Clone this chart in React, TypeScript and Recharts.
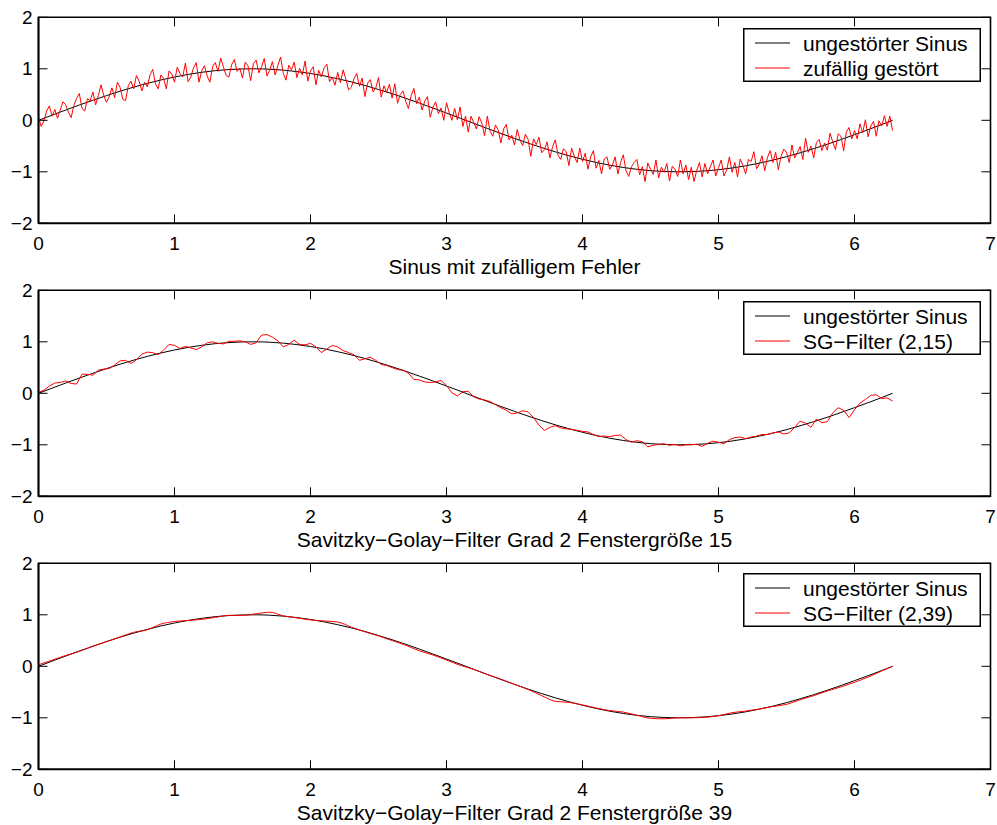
import React from 'react'
import { LineChart, Line, XAxis, YAxis, ReferenceArea, Legend } from 'recharts'

const FONT = '"Liberation Sans", Arial, Helvetica, sans-serif'

// ungestörter Sinus, 0 .. 2*pi in 0.1-Schritten (letzter Punkt bei 6.28)
const sinus = [
  0, 0.1, 0.199, 0.296, 0.389, 0.479, 0.565, 0.644, 0.717, 0.783,
  0.841, 0.891, 0.932, 0.964, 0.985, 0.997, 1.0, 0.992, 0.974, 0.946,
  0.909, 0.863, 0.808, 0.746, 0.676, 0.598, 0.516, 0.427, 0.335, 0.239,
  0.141, 0.042, -0.058, -0.158, -0.256, -0.351, -0.443, -0.53, -0.612, -0.688,
  -0.757, -0.818, -0.872, -0.916, -0.952, -0.978, -0.994, -1.0, -0.996, -0.983,
  -0.959, -0.926, -0.884, -0.832, -0.773, -0.706, -0.631, -0.551, -0.465, -0.374,
  -0.279, -0.182, -0.083, 0,
]

// zufällig gestört, Schrittweite 0.02
const gestoert = [
  0.06, -0.12, -0.01, 0.18, 0.28, 0.08, 0.21, 0.04, 0.2, 0.36,
  0.3, 0.16, 0.05, 0.29, 0.42, 0.52, 0.23, 0.18, 0.42, 0.38,
  0.55, 0.3, 0.48, 0.69, 0.48, 0.35, 0.46, 0.63, 0.44, 0.74,
  0.64, 0.41, 0.38, 0.67, 0.76, 0.61, 0.87, 0.76, 0.57, 0.74,
  0.65, 0.88, 0.99, 0.71, 0.61, 0.88, 0.81, 0.61, 0.96, 0.9,
  0.74, 1.03, 0.91, 0.84, 1.11, 0.75, 0.84, 1.02, 1.12, 0.74,
  0.96, 1.06, 0.86, 0.74, 1.04, 1.12, 0.95, 1.21, 1.03, 0.87,
  0.84, 1.08, 1.18, 0.95, 1.01, 0.82, 1.13, 1.06, 0.77, 1.1,
  1.17, 0.92, 1.04, 1.2, 0.86, 0.97, 1.14, 0.88, 1.06, 1.23,
  0.91, 0.78, 1.07, 0.98, 1.13, 0.83, 1.01, 0.88, 1.15, 0.76,
  0.96, 1.04, 0.69, 0.97, 0.84, 1.02, 1.09, 0.75, 0.84, 0.68,
  0.93, 0.73, 0.98, 0.8, 0.59, 0.64, 0.81, 0.91, 0.66, 0.82,
  0.46, 0.72, 0.79, 0.55, 0.63, 0.83, 0.45, 0.67, 0.54, 0.7,
  0.43, 0.71, 0.33, 0.5, 0.57, 0.37, 0.23, 0.48, 0.62, 0.32,
  0.45, 0.2, 0.37, 0.46, 0.06, 0.25, 0.36, 0.13, 0.24, 0.0,
  0.34, 0.15, 0.0, 0.23, 0.01, 0.26, -0.12, 0.08, -0.23, 0.08,
  -0.04, -0.17, 0.07, -0.06, -0.3, 0.08, -0.21, -0.31, -0.09, -0.19,
  -0.44, -0.17, -0.08, -0.38, -0.29, -0.48, -0.18, -0.38, -0.49, -0.27,
  -0.37, -0.7, -0.36, -0.47, -0.33, -0.63, -0.57, -0.42, -0.73, -0.51,
  -0.38, -0.68, -0.76, -0.55, -0.61, -0.88, -0.54, -0.7, -0.82, -0.54,
  -0.8, -0.64, -0.95, -0.71, -0.59, -0.93, -0.78, -1.04, -0.75, -0.71,
  -0.95, -0.87, -0.71, -1.04, -0.82, -0.67, -0.98, -1.09, -0.9, -0.82,
  -0.76, -1.06, -0.9, -1.19, -0.83, -0.95, -1.05, -0.77, -1.12, -0.91,
  -1.01, -0.84, -1.18, -0.89, -0.95, -1.09, -0.77, -1.04, -0.87, -1.15,
  -0.91, -1.19, -0.97, -0.82, -1.1, -0.84, -1.04, -0.9, -0.77, -1.08,
  -0.92, -0.77, -1.08, -0.97, -0.71, -1.01, -0.82, -1.1, -0.75, -0.88,
  -1.04, -0.76, -0.8, -0.61, -0.94, -0.85, -0.69, -0.98, -0.72, -0.59,
  -0.82, -0.62, -0.96, -0.7, -0.56, -0.62, -0.82, -0.48, -0.73, -0.63,
  -0.51, -0.76, -0.35, -0.62, -0.5, -0.73, -0.43, -0.37, -0.59, -0.44,
  -0.58, -0.25, -0.42, -0.57, -0.26, -0.31, -0.59, -0.23, -0.14, -0.36,
  -0.2, -0.36, -0.07, -0.24, 0.01, -0.32, -0.11, -0.02, -0.31, -0.01,
  -0.11, 0.09, -0.12, 0.08, -0.2,
]

// SG-Filter (2,15), Schrittweite 0.04
const sg15 = [
  0.02, 0.06, 0.14, 0.2, 0.21, 0.24, 0.19, 0.18, 0.37, 0.37,
  0.35, 0.45, 0.47, 0.48, 0.55, 0.63, 0.64, 0.58, 0.65, 0.76,
  0.8, 0.79, 0.75, 0.84, 0.95, 0.93, 0.87, 0.91, 0.88, 0.85,
  0.9, 0.98, 1.0, 0.97, 0.96, 1.01, 1.01, 1.02, 1.0, 0.95,
  0.98, 1.13, 1.14, 1.09, 1.02, 0.9, 0.95, 1.03, 0.95, 0.94,
  0.97, 0.9, 0.79, 0.86, 0.93, 0.9, 0.83, 0.79, 0.75, 0.64,
  0.67, 0.7, 0.64, 0.56, 0.54, 0.5, 0.46, 0.45, 0.39, 0.27,
  0.26, 0.22, 0.21, 0.22, 0.25, 0.15, 0.01, -0.05, 0.03, 0.04,
  -0.07, -0.11, -0.13, -0.16, -0.22, -0.28, -0.33, -0.4, -0.38, -0.34,
  -0.36, -0.47, -0.62, -0.72, -0.66, -0.63, -0.67, -0.69, -0.7, -0.72,
  -0.74, -0.75, -0.8, -0.84, -0.83, -0.84, -0.82, -0.81, -0.9, -0.95,
  -0.92, -0.94, -1.04, -1.01, -0.99, -0.98, -1.01, -0.99, -1.02, -1.0,
  -1.0, -0.99, -1.03, -0.97, -0.93, -0.95, -0.98, -0.9, -0.86, -0.85,
  -0.88, -0.85, -0.83, -0.8, -0.8, -0.77, -0.75, -0.79, -0.77, -0.66,
  -0.54, -0.58, -0.66, -0.5, -0.57, -0.55, -0.38, -0.28, -0.33, -0.47,
  -0.32, -0.19, -0.12, -0.04, -0.03, -0.1, -0.09, -0.15,
]

// SG-Filter (2,39), Schrittweite 0.1
const sg39 = [
  0.03, 0.12, 0.21, 0.29, 0.39, 0.48, 0.57, 0.66, 0.71, 0.82,
  0.87, 0.89, 0.91, 0.95, 0.99, 0.99, 1.02, 1.05, 0.98, 0.94,
  0.9, 0.88, 0.86, 0.76, 0.67, 0.59, 0.5, 0.41, 0.3, 0.22,
  0.12, 0.02, -0.06, -0.16, -0.25, -0.35, -0.45, -0.57, -0.68, -0.7,
  -0.75, -0.81, -0.86, -0.89, -0.95, -1.01, -1.02, -1.0, -1.0, -0.99,
  -0.96, -0.9, -0.87, -0.83, -0.78, -0.74, -0.65, -0.57, -0.48, -0.4,
  -0.31, -0.21, -0.09, 0,
]

const xTicks = [0, 1, 2, 3, 4, 5, 6, 7]
const yTicks = [-2, -1, 0, 1, 2]
const titles = [
  'Sinus mit zufälligem Fehler',
  'Savitzky\u2212Golay\u2212Filter Grad 2 Fenstergröße 15',
  'Savitzky\u2212Golay\u2212Filter Grad 2 Fenstergröße 39',
]
const redNames = ['zufällig gestört', 'SG\u2212Filter (2,15)', 'SG\u2212Filter (2,39)']
const blackName = 'ungestörter Sinus'

const toRows = (vals: number[], step: number) =>
  vals.map((y, i) => ({ x: i === vals.length - 1 ? 6.28 : +(i * step).toFixed(2), y }))

const sinusRows = toRows(sinus, 0.1)
const redRows = [toRows(gestoert, 0.02), toRows(sg15, 0.04), toRows(sg39, 0.1)]

const PLOT_W = 952
const PLOT_H = 206
const TICK = 9
const tops = [0, 273, 545.5]

const fmt = (v: number) => (v < 0 ? '\u2212' + Math.abs(v) : String(v))

function XTick({ x, y, payload }: any) {
  return (
    <g>
      <line x1={x} y1={y} x2={x} y2={y - TICK} stroke="#000" />
      <line x1={x} y1={y - PLOT_H} x2={x} y2={y - PLOT_H + TICK} stroke="#000" />
      <text x={x} y={y + 27} textAnchor="middle" fontSize={19} fontFamily={FONT} fill="#000">
        {fmt(payload.value)}
      </text>
    </g>
  )
}

function YTick({ x, y, payload }: any) {
  return (
    <g>
      <line x1={x} y1={y} x2={x + TICK} y2={y} stroke="#000" />
      <line x1={x + PLOT_W - TICK} y1={y} x2={x + PLOT_W} y2={y} stroke="#000" />
      <text x={x - 6} y={y} dy="0.35em" textAnchor="end" fontSize={19} fontFamily={FONT} fill="#000">
        {fmt(payload.value)}
      </text>
    </g>
  )
}

function LegendBox({ redName }: { redName: string }) {
  const rows = [
    { name: blackName, color: '#000' },
    { name: redName, color: '#ff0000' },
  ]
  return (
    <svg width={238} height={54} style={{ display: 'block' }}>
      <rect x={0.75} y={0.75} width={236.5} height={52.5} fill="#fff" stroke="#000" strokeWidth={1.5} />
      {rows.map((r, i) => (
        <g key={r.name}>
          <line x1={12} x2={47} y1={15 + 25 * i} y2={15 + 25 * i} stroke={r.color} />
          <text x={60} y={23 + 25 * i} fontSize={21} fontFamily={FONT} fill="#000">
            {r.name}
          </text>
        </g>
      ))}
    </svg>
  )
}

function Panel({ idx }: { idx: number }) {
  return (
    <div style={{ position: 'absolute', left: 0, top: tops[idx] }}>
      <LineChart width={997} height={280} margin={{ top: 17.3, right: 6.5, bottom: 55.7, left: 37.5 }}>
        <XAxis
          type="number"
          dataKey="x"
          domain={[0, 7]}
          ticks={xTicks}
          height={1}
          tickSize={0}
          tickMargin={0}
          tickLine={false}
          axisLine={{ stroke: '#000', strokeWidth: 1.8 }}
          tick={<XTick />}
          allowDataOverflow
          label={{ value: titles[idx], position: 'bottom', offset: 35, fontSize: 21, fill: '#000', fontFamily: FONT }}
        />
        <YAxis
          type="number"
          domain={[-2, 2]}
          ticks={yTicks}
          width={1}
          tickSize={0}
          tickMargin={0}
          tickLine={false}
          axisLine={{ stroke: '#000', strokeWidth: 1.8 }}
          tick={<YTick />}
          allowDataOverflow
        />
        <ReferenceArea x1={0} x2={7} y1={-2} y2={2} fill="none" stroke="#000" strokeWidth={1.6} />
        <Line
          data={sinusRows}
          dataKey="y"
          name={blackName}
          type="monotone"
          stroke="#000"
          strokeWidth={1}
          dot={false}
          activeDot={false}
          isAnimationActive={false}
        />
        <Line
          data={redRows[idx]}
          dataKey="y"
          name={redNames[idx]}
          type={idx === 2 ? 'monotone' : 'linear'}
          stroke="#ff0000"
          strokeWidth={1}
          dot={false}
          activeDot={false}
          isAnimationActive={false}
        />
        <Legend
          layout="vertical"
          align="center"
          verticalAlign="middle"
          wrapperStyle={{ left: 743.3, top: 27.7, width: 238, height: 54 }}
          content={() => <LegendBox redName={redNames[idx]} />}
        />
      </LineChart>
    </div>
  )
}

export default function App() {
  return (
    <div
      style={{
        position: 'absolute',
        left: 0,
        top: 0,
        width: 997,
        height: 825,
        background: '#fff',
        fontFamily: FONT,
        overflow: 'hidden',
      }}
    >
      {[0, 1, 2].map((i) => (
        <Panel key={i} idx={i} />
      ))}
    </div>
  )
}
